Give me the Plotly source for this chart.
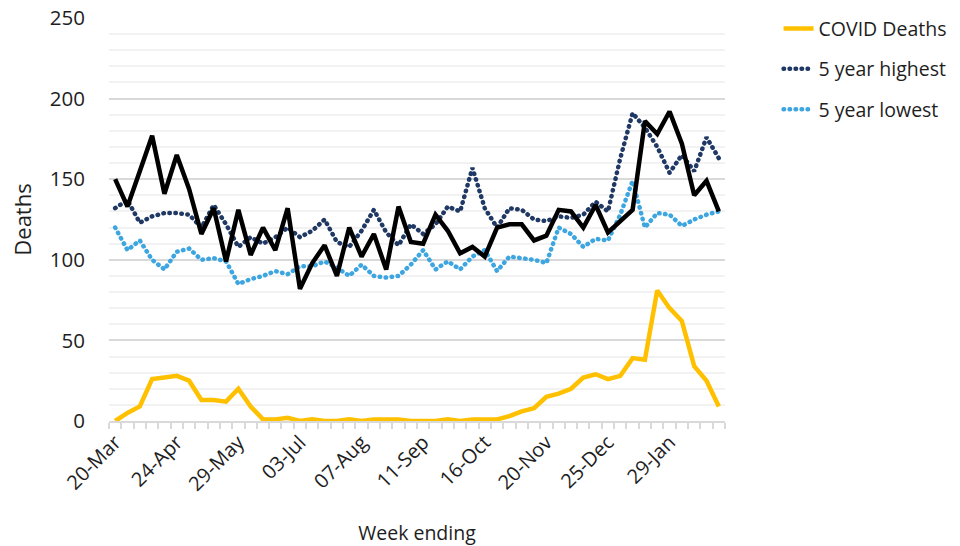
import plotly.graph_objects as go

weeks = ["20-Mar", "27-Mar", "03-Apr", "10-Apr", "17-Apr", "24-Apr", "01-May", "08-May", "15-May", "22-May",
         "29-May", "05-Jun", "12-Jun", "19-Jun", "26-Jun", "03-Jul", "10-Jul", "17-Jul", "24-Jul", "31-Jul",
         "07-Aug", "14-Aug", "21-Aug", "28-Aug", "04-Sep", "11-Sep", "18-Sep", "25-Sep", "02-Oct", "09-Oct",
         "16-Oct", "23-Oct", "30-Oct", "06-Nov", "13-Nov", "20-Nov", "27-Nov", "04-Dec", "11-Dec", "18-Dec",
         "25-Dec", "01-Jan", "08-Jan", "15-Jan", "22-Jan", "29-Jan", "05-Feb", "12-Feb", "19-Feb", "26-Feb"]

all_deaths = [150, 133, 155, 177, 141, 165, 144, 116, 132, 99,
              131, 103, 120, 106, 132, 82, 98, 109, 90, 120,
              102, 116, 94, 133, 111, 110, 128, 118, 104, 108,
              102, 120, 122, 122, 112, 115, 131, 130, 120, 134,
              117, 124, 131, 186, 178, 192, 172, 140, 149, 130]

covid_deaths = [0, 5, 9, 26, 27, 28, 25, 13, 13, 12,
                20, 9, 1, 1, 2, 0, 1, 0, 0, 1,
                0, 1, 1, 1, 0, 0, 0, 1, 0, 1,
                1, 1, 3, 6, 8, 15, 17, 20, 27, 29,
                26, 28, 39, 38, 81, 70, 62, 34, 25, 9]

five_year_high = [132, 137, 123, 127, 129, 129, 128, 120, 134, 122,
                  108, 114, 110, 114, 120, 114, 118, 125, 111, 108,
                  118, 131, 117, 109, 122, 116, 122, 133, 130, 157,
                  132, 120, 132, 131, 125, 124, 127, 126, 128, 136,
                  130, 163, 191, 182, 170, 154, 165, 155, 176, 163]

five_year_low = [120, 106, 112, 100, 94, 105, 107, 100, 101, 99,
                 85, 88, 90, 93, 91, 96, 96, 99, 95, 90,
                 97, 90, 89, 90, 97, 106, 94, 99, 94, 102,
                 106, 93, 102, 101, 100, 98, 120, 116, 108, 113,
                 112, 128, 149, 120, 129, 128, 121, 125, 128, 130]

label_idx = [0, 5, 10, 15, 20, 25, 30, 35, 40, 45]

x_idx = list(range(len(weeks)))
FONT = "Open Sans"
TXT = "#1E1E1E"

fig = go.Figure()
fig.add_trace(go.Scatter(x=x_idx, y=covid_deaths, mode="lines", name="COVID Deaths",
                         line=dict(color="#FFC000", width=4.5), legendgroup="a"))
fig.add_trace(go.Scatter(x=x_idx, y=five_year_high, mode="lines", name="5 year highest",
                         line=dict(color="#1F3864", width=4.5, dash="0.5px,5.5px"), legendgroup="b"))
fig.add_trace(go.Scatter(x=x_idx, y=five_year_low, mode="lines", name="5 year lowest",
                         line=dict(color="#3DA5E0", width=4.5, dash="0.5px,5.5px"), legendgroup="c"))
fig.add_trace(go.Scatter(x=x_idx, y=all_deaths, mode="lines", name="All deaths",
                         line=dict(color="#000000", width=4.5), showlegend=False))

fig.update_layout(
    width=960, height=546,
    margin=dict(l=109, r=234.5, t=18, b=125, autoexpand=False),
    paper_bgcolor="white", plot_bgcolor="white",
    font=dict(family=FONT, color=TXT, size=18),
    legend=dict(x=0.811, y=0.983, xref="container", yref="container",
                xanchor="left", yanchor="top",
                font=dict(size=19.5, family=FONT, color=TXT),
                tracegroupgap=12, bgcolor="rgba(0,0,0,0)"),
    xaxis=dict(
        range=[-0.5, len(weeks) - 0.5], automargin=False,
        tickmode="array", tickvals=label_idx, ticktext=[weeks[i] for i in label_idx],
        tickangle=-45, ticks="", showgrid=False, zeroline=False,
        showline=True, linecolor="#D9D9D9", linewidth=1.5,
        tickfont=dict(size=20, family=FONT, color=TXT),
        minor=dict(tickmode="linear", tick0=-0.5, dtick=1, ticks="outside", ticklen=6,
                   tickcolor="#D9D9D9", tickwidth=1.5, showgrid=False),
        title=dict(text="Week ending", font=dict(size=19.5, family=FONT, color=TXT), standoff=31),
    ),
    yaxis=dict(
        range=[0, 250], tickmode="linear", tick0=0, dtick=50, automargin=False,
        showgrid=True, gridcolor="#D9D9D9", gridwidth=1.5, zeroline=False,
        tickfont=dict(size=20.5, family=FONT, color=TXT), ticklabelstandoff=23,
        ticklabeloverflow="allow",
        minor=dict(tickmode="linear", dtick=10, showgrid=True, gridcolor="#F2F2F2", gridwidth=1.5),
        title=dict(text="Deaths", font=dict(size=22, family=FONT, color=TXT), standoff=12),
    ),
)

post = """
document.body.style.margin = '0';
document.body.style.overflow = 'hidden';
var gd = document.getElementsByClassName('plotly-graph-div')[0];
function roundDots(){
  var ps = gd.querySelectorAll('path.js-line');
  ps.forEach(function(p){
    var d = p.style.strokeDasharray;
    if (d && d !== 'none' && d !== '') { p.style.strokeLinecap = 'round'; }
  });
}
roundDots();
gd.on('plotly_afterplot', roundDots);
"""

fig.write_html("out.html", post_script=post, config={"displayModeBar": False})
